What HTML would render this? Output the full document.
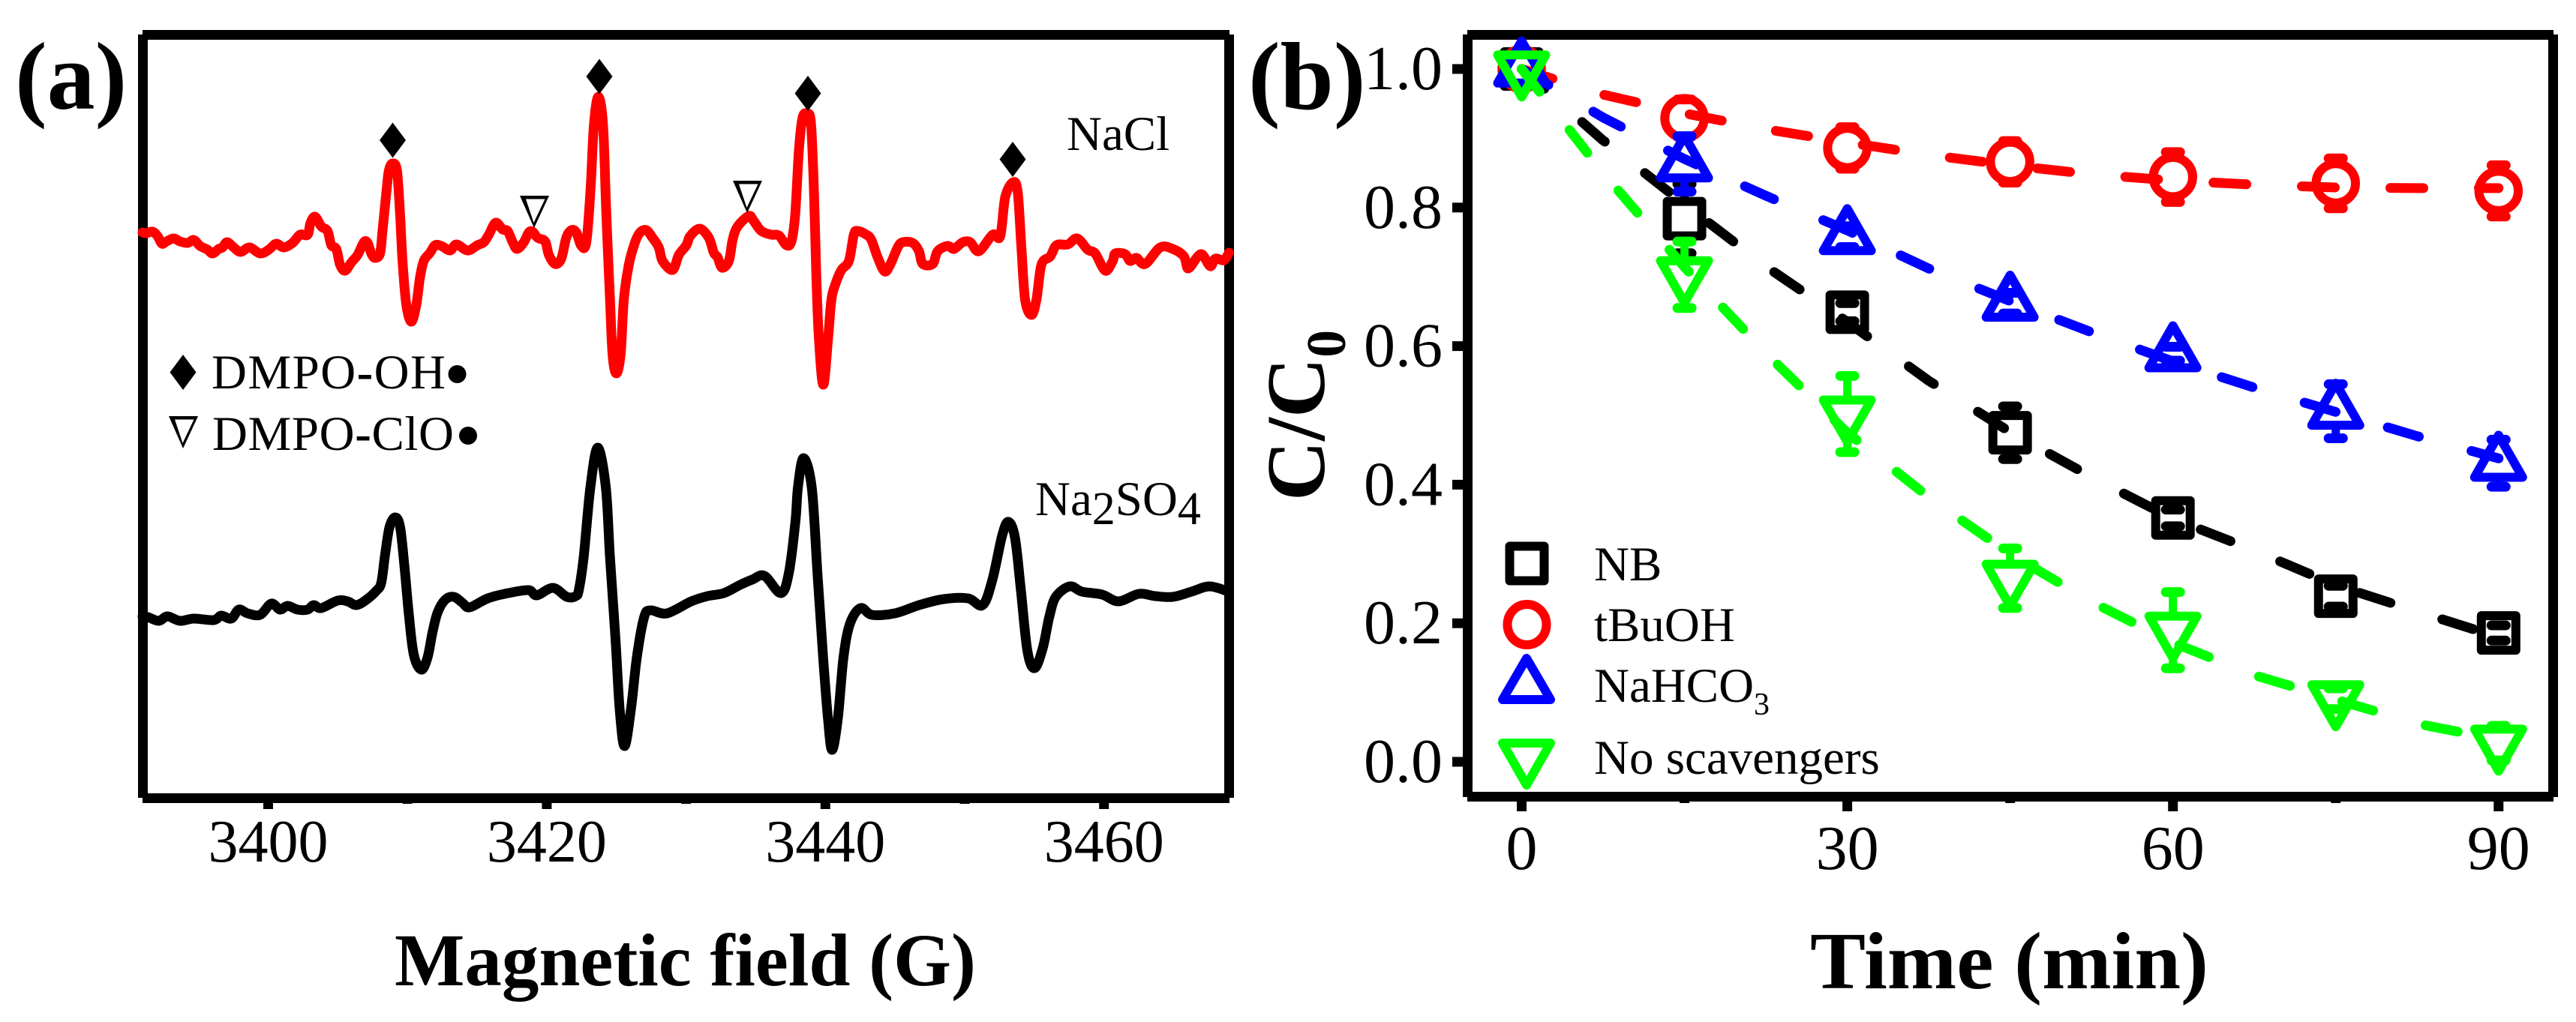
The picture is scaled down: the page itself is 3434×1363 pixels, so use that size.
<!DOCTYPE html>
<html lang="en">
<head>
<meta charset="utf-8">
<title>EPR spectra and scavenger kinetics</title>
<style>
html,body{margin:0;padding:0;background:#fff;}
svg{display:block;}
text{font-family:"Liberation Serif",serif;fill:#000;}
.t65{font-size:65px;}
.bold{font-weight:bold;}
</style>
</head>
<body>
<svg id="fig" xmlns="http://www.w3.org/2000/svg" width="3434" height="1363" viewBox="0 0 3434 1363">
  <rect x="0" y="0" width="3434" height="1363" fill="#fff"/>

  <g id="panel-a">
    <text class="bold" x="20" y="145" font-size="128">(a)</text>
    <g stroke="#000" stroke-width="13" fill="none">
      <line x1="190" y1="46.5" x2="1639" y2="46.5"/>
      <line x1="190" y1="1064.5" x2="1639" y2="1064.5"/>
      <line x1="190.5" y1="46" x2="190.5" y2="1064"/>
      <line x1="1638.5" y1="46" x2="1638.5" y2="1064"/>
    </g>
    <g id="a-ticks"></g>
    <g id="a-traces"></g>

    <g fill="#000">
      <polygon points="523.5,163.5 541,187 523.5,210.5 506,187"/>
      <polygon points="799,78.5 816.5,102 799,125.5 781.5,102"/>
      <polygon points="1077,101 1094.5,124.5 1077,148 1059.5,124.5"/>
      <polygon points="1350,189 1367.5,212.5 1350,236 1332.5,212.5"/>
    </g>
    <g>
      <polygon points="977,241 1016,241 996,284" fill="#000"/>
      <polygon points="985,245.5 1010.5,245.5 995.5,277" fill="#fff"/>
    </g>
    <g transform="translate(-284,20)">
      <polygon points="977,241 1016,241 996,284" fill="#000"/>
      <polygon points="985,245.5 1010.5,245.5 995.5,277" fill="#fff"/>
    </g>

    <text class="t65" x="1422" y="200">NaCl</text>
    <text class="t65" x="1380" y="687">Na<tspan dy="12" font-size="62">2</tspan><tspan dy="-12">SO</tspan><tspan dy="12" font-size="62">4</tspan></text>

    <g>
      <polygon points="244,473 261.5,496.5 244,520 226.5,496.5" fill="#000"/>
      <text class="t65" x="282" y="518" textLength="312">DMPO<tspan font-weight="bold">-</tspan>OH</text>
      <circle cx="609.5" cy="499" r="12" fill="#000"/>
    </g>
    <g>
      <g transform="translate(-752,314)">
        <polygon points="977,241 1016,241 996,284" fill="#000"/>
        <polygon points="985,245.5 1010.5,245.5 995.5,277" fill="#fff"/>
      </g>
      <text class="t65" x="283" y="600" textLength="322">DMPO<tspan font-weight="bold">-</tspan>ClO</text>
      <circle cx="624" cy="581" r="12" fill="#000"/>
    </g>

    <text class="bold" x="526" y="1314" font-size="100" textLength="775" lengthAdjust="spacingAndGlyphs">Magnetic field (G)</text>
  </g>

  <g id="panel-b">
    <text class="bold" x="1664" y="145" font-size="128">(b)</text>
    <g stroke="#000" stroke-width="13" fill="none">
      <line x1="1956" y1="46.5" x2="3404" y2="46.5"/>
      <line x1="1956" y1="1062.5" x2="3404" y2="1062.5"/>
      <line x1="1956.5" y1="46" x2="1956.5" y2="1063"/>
      <line x1="3403.5" y1="46" x2="3403.5" y2="1063"/>
    </g>
    <g id="b-ticks"></g>
    <g id="b-series"></g>

    <text class="bold" transform="translate(1765,668) rotate(-90)" font-size="111">C/C<tspan dy="28" font-size="74">0</tspan></text>
    <text class="bold" x="2413" y="1318" font-size="108" textLength="531" lengthAdjust="spacingAndGlyphs">Time (min)</text>

    <g fill="none" stroke-width="12" stroke-linejoin="round">
      <g>
        <rect x="2012.5" y="728.5" width="46" height="46" stroke="#000"/>
        <text class="t65" x="2125" y="774" stroke="none">NB</text>
      </g>
      <g>
        <ellipse cx="2035.5" cy="833" rx="26" ry="27" stroke="#f00"/>
        <text class="t65" x="2125" y="855" stroke="none">tBuOH</text>
      </g>
      <g>
        <polygon points="2035,878 2067,933 2003,933" stroke="#00f"/>
        <text class="t65" x="2125" y="936" stroke="none">NaHCO<tspan dy="17" font-size="42">3</tspan></text>
      </g>
      <g>
        <polygon points="2035,1047 2067,991 2003,991" stroke="#0f0"/>
        <text class="t65" x="2125" y="1032" stroke="none">No scavengers</text>
      </g>
    </g>
  </g>
</svg>

<script>
// ---------- Panel (a) data: EPR spectra, field in gauss, signal in arbitrary units ----------
const aTickLabels = [3400, 3420, 3440, 3460];
const aMinorTicks = [3410, 3430, 3450];

const naclField = [3390.98,3391.25,3391.70,3392.06,3392.38,3392.69,3393.22,3393.67,3394.21,3394.66,3395.11,3395.65,3396.01,3396.45,3396.72,3397.05,3397.53,3398.02,3398.66,3399.42,3400.04,3400.58,3401.12,3401.75,3402.29,3402.83,3403.04,3403.37,3403.81,3404.26,3404.53,3404.89,3405.16,3405.52,3405.97,3406.42,3406.87,3407.14,3407.40,3407.67,3408.03,3408.21,3408.48,3408.66,3408.93,3409.25,3409.47,3409.65,3409.92,3410.28,3410.63,3410.90,3411.17,3411.62,3411.98,3412.43,3413.06,3413.51,3414.32,3415.03,3415.48,3415.84,3416.33,3416.83,3417.19,3417.55,3417.87,3418.35,3418.71,3418.98,3419.34,3419.88,3420.15,3420.59,3421.04,3421.40,3421.76,3422.12,3422.48,3422.84,3423.14,3423.38,3423.70,3424.04,3424.27,3424.54,3424.72,3424.99,3425.30,3425.53,3425.89,3426.34,3426.70,3427.15,3427.59,3428.04,3428.31,3429.03,3429.48,3430.02,3430.29,3430.97,3431.63,3431.99,3432.26,3432.58,3433.07,3433.34,3433.70,3434.51,3434.86,3435.40,3436.12,3436.66,3437.20,3437.56,3437.83,3438.10,3438.36,3438.67,3438.96,3439.17,3439.35,3439.53,3439.85,3440.20,3440.43,3440.70,3441.15,3441.69,3442.04,3442.31,3442.94,3443.30,3443.75,3444.25,3444.65,3445.19,3445.55,3446.27,3446.72,3446.99,3447.70,3448.06,3448.78,3449.23,3449.86,3450.40,3451.02,3452.01,3452.55,3452.91,3453.48,3453.81,3454.08,3454.34,3454.79,3455.15,3455.51,3456.14,3456.59,3457.40,3458.08,3458.83,3459.37,3460.09,3460.63,3460.81,3461.52,3461.88,3462.33,3462.96,3464.04,3464.94,3465.74,3466.05,3466.73,3467.09,3467.63,3467.99,3468.61,3468.97];
const naclSignal = [748,747,749,743,733,736,740,736,734,738,730,725,720,726,728,735,728,722,728,720,725,733,728,734,745,745,761,769,756,750,731,726,705,697,708,718,735,734,720,714,720,751,801,830,840,830,771,708,651,629,651,688,710,721,731,730,724,732,724,731,735,745,761,752,750,735,726,735,748,749,741,736,718,706,713,741,751,748,730,735,805,891,929,891,775,658,585,560,585,658,705,735,748,751,741,728,710,698,718,731,743,753,741,721,715,701,710,738,756,770,763,750,745,744,731,736,771,858,901,906,895,808,691,608,545,608,658,678,698,710,745,750,745,738,715,696,705,728,735,734,723,706,706,723,730,726,735,735,723,745,743,795,815,801,725,658,638,658,705,716,731,732,740,725,720,697,710,720,719,710,714,706,728,726,716,700,716,718,703,713,711,721];

const na2so4Field = [3390.98,3391.37,3392.15,3392.77,3393.67,3394.66,3396.09,3396.63,3397.35,3397.89,3398.52,3399.42,3400.22,3400.85,3401.39,3402.11,3402.83,3403.27,3403.81,3404.98,3405.70,3406.33,3407.04,3407.76,3408.12,3408.39,3408.71,3409.11,3409.47,3409.79,3410.10,3410.45,3410.99,3411.44,3411.80,3412.16,3412.70,3413.33,3413.95,3414.46,3415.77,3417.23,3418.69,3419.28,3420.44,3421.44,3422.08,3422.31,3422.66,3423.13,3423.66,3424.24,3424.53,3424.94,3425.23,3425.58,3426.05,3426.46,3426.99,3427.45,3428.62,3430.37,3431.54,3432.71,3433.88,3434.75,3435.63,3436.80,3437.38,3437.85,3438.03,3438.43,3439.02,3439.43,3439.84,3440.19,3440.48,3440.89,3441.30,3441.76,3442.52,3443.34,3444.98,3446.73,3448.48,3450.23,3451.29,3451.99,3452.69,3453.15,3453.62,3454.03,3454.50,3455.02,3455.61,3456.07,3456.54,3457.54,3458.41,3459.87,3461.04,3462.50,3463.67,3464.95,3466.29,3467.58,3468.93];
const na2so4Signal = [236,235,230,236,230,233,231,237,233,245,240,238,253,245,250,245,245,251,247,257,256,251,258,270,281,318,355,368,355,301,238,185,165,181,215,241,258,262,254,248,260,267,271,264,274,262,263,272,317,408,461,408,317,204,113,63,113,181,235,244,240,256,263,267,278,285,290,267,294,363,408,447,408,294,181,99,58,99,181,226,247,238,240,251,259,260,251,285,344,362,340,272,190,167,194,235,262,276,269,265,256,266,263,262,269,276,269];

// ---------- Panel (b) data: C/C0 versus time ----------
const times = [0, 15, 30, 45, 60, 75, 90];
const xTickLabelsB = [0, 30, 60, 90];
const xMinorTicksB = [15, 45, 75];
const yTickLabelsB = ['0.0', '0.2', '0.4', '0.6', '0.8', '1.0'];

const nbValues = [1.0, 0.784, 0.649, 0.475, 0.352, 0.239, 0.186];
const nbErrors = [0, 0.05, 0.013, 0.038, 0.012, 0.015, 0.011];
const tbuohValues = [1.0, 0.929, 0.886, 0.866, 0.844, 0.835, 0.824];
const tbuohErrors = [0, 0.027, 0.03, 0.03, 0.036, 0.036, 0.037];
const nahco3Values = [1.0, 0.863, 0.758, 0.662, 0.589, 0.506, 0.431];
const nahco3Errors = [0, 0.04, 0.015, 0.015, 0.01, 0.039, 0.034];
const noneValues = [1.0, 0.703, 0.502, 0.265, 0.19, 0.091, 0.027];
const noneErrors = [0, 0.048, 0.055, 0.043, 0.055, 0.015, 0.025];

// Dashed trend curves
const fitTimes = [0, 7.5, 15, 22.5, 30, 37.5, 45, 52.5, 60, 67.5, 75, 82.5, 90];
const nbFit = [1.0, 0.897, 0.805, 0.715, 0.635, 0.55, 0.476, 0.411, 0.351, 0.305, 0.255, 0.217, 0.18];
const tbuohFit = [1.0, 0.963, 0.936, 0.913, 0.894, 0.876, 0.861, 0.848, 0.839, 0.833, 0.829, 0.828, 0.828];
const nahco3Fit = [1.0, 0.93, 0.87, 0.817, 0.767, 0.712, 0.665, 0.62, 0.578, 0.54, 0.505, 0.47, 0.438];
const noneFit = [1.0, 0.85, 0.714, 0.59, 0.475, 0.382, 0.3, 0.231, 0.172, 0.125, 0.09, 0.055, 0.032];

// ---------- Axis functions ----------
const NS = 'http://www.w3.org/2000/svg';
function xA(g) { return 357.5 + (g - 3400) * 18.57; }
function yA(s) { return 1058 - s; }
function xB(t) { return 2028.5 + t * 14.47; }
function yB(v) { return 1016 - 924 * v; }

function mk(parent, tag, attrs) {
  const el = document.createElementNS(NS, tag);
  for (const k in attrs) el.setAttribute(k, attrs[k]);
  parent.appendChild(el);
  return el;
}

// ---------- Panel (a) ----------
const aTicks = document.getElementById('a-ticks');
aTickLabels.forEach(function (g) {
  const tick = mk(aTicks, 'line', { x1: xA(g), x2: xA(g), y1: 1070, y2: 1079, stroke: '#000', 'stroke-width': 13 });
  
  
  const label = mk(aTicks, 'text', { x: xA(g), y: 1149, 'text-anchor': 'middle', 'font-size': 80 });
  label.textContent = String(g);
  
  
});
aMinorTicks.forEach(function (g) {
  const tick = mk(aTicks, 'line', { x1: xA(g), x2: xA(g), y1: 1070, y2: 1072, stroke: '#000', 'stroke-width': 13 });
  
  
});

// Smooth curve through the sampled spectrum (Catmull-Rom converted to cubic Beziers)
function tracePath(fields, signals) {
  const p = fields.map(function (g, i) { return [xA(g), yA(signals[i])]; });
  let d = 'M' + p[0][0].toFixed(1) + ' ' + p[0][1].toFixed(1);
  for (let i = 0; i < p.length - 1; i++) {
    const a = p[Math.max(i - 1, 0)], b = p[i], c = p[i + 1], e = p[Math.min(i + 2, p.length - 1)];
    const c1x = b[0] + (c[0] - a[0]) / 6, c1y = b[1] + (c[1] - a[1]) / 6;
    const c2x = c[0] - (e[0] - b[0]) / 6, c2y = c[1] - (e[1] - b[1]) / 6;
    d += ' C' + c1x.toFixed(1) + ' ' + c1y.toFixed(1) + ' ' + c2x.toFixed(1) + ' ' + c2y.toFixed(1) + ' ' + c[0].toFixed(1) + ' ' + c[1].toFixed(1);
  }
  return d;
}
const aTraces = document.getElementById('a-traces');
const na2so4Trace = mk(aTraces, 'path', { d: tracePath(na2so4Field, na2so4Signal), fill: 'none', stroke: '#000', 'stroke-width': 13, 'stroke-linejoin': 'round', 'stroke-linecap': 'round' });


const naclTrace = mk(aTraces, 'path', { d: tracePath(naclField, naclSignal), fill: 'none', stroke: '#f00', 'stroke-width': 13, 'stroke-linejoin': 'round', 'stroke-linecap': 'round' });



// ---------- Panel (b) axes ----------
const bTicks = document.getElementById('b-ticks');
xTickLabelsB.forEach(function (t) {
  const tick = mk(bTicks, 'line', { x1: xB(t), x2: xB(t), y1: 1068, y2: 1082, stroke: '#000', 'stroke-width': 13 });
  
  
  const label = mk(bTicks, 'text', { x: xB(t), y: 1159, 'text-anchor': 'middle', 'font-size': 84 });
  label.textContent = String(t);
  
  
});
xMinorTicksB.forEach(function (t) {
  const tick = mk(bTicks, 'line', { x1: xB(t), x2: xB(t), y1: 1068, y2: 1071, stroke: '#000', 'stroke-width': 13 });
  
  
});
yTickLabelsB.forEach(function (s) {
  const v = parseFloat(s);
  const tick = mk(bTicks, 'line', { x1: 1936, x2: 1951, y1: yB(v), y2: yB(v), stroke: '#000', 'stroke-width': 13 });
  
  
  const label = mk(bTicks, 'text', { x: 1923, y: yB(v) + 27, 'text-anchor': 'end', 'font-size': 84 });
  label.textContent = s;
  
  
});

// ---------- Panel (b) series ----------
// The original dash pattern is squeezed vertically, so dash length is measured with a y stretch.
const DASH_ON = 44, DASH_OFF = 74, DASH_Y_STRETCH = 1 / 0.82;
function dashedPath(pts) {
  let d = 'M' + pts[0][0].toFixed(1) + ' ' + pts[0][1].toFixed(1);
  let on = true, phase = 0;
  for (let i = 1; i < pts.length; i++) {
    const a = pts[i - 1], b = pts[i];
    const L = Math.hypot(b[0] - a[0], (b[1] - a[1]) * DASH_Y_STRETCH);
    let pos = 0;
    while (pos < L - 1e-6) {
      const limit = on ? DASH_ON : DASH_OFF;
      const step = Math.min(limit - phase, L - pos);
      pos += step;
      phase += step;
      const f = pos / L;
      const px = (a[0] + (b[0] - a[0]) * f).toFixed(1);
      const py = (a[1] + (b[1] - a[1]) * f).toFixed(1);
      if (on) d += ' L' + px + ' ' + py;
      if (phase >= limit - 1e-6) {
        on = !on;
        phase = 0;
        if (on) d += ' M' + px + ' ' + py;
      }
    }
  }
  return d;
}

const shapeExtent = {
  square: [23, 23],
  circle: [26, 26],
  up: [37, 19],
  down: [19, 37]
};
function drawMarker(parent, shape, x, y, color) {
  const common = { fill: 'none', stroke: color, 'stroke-width': 12, 'stroke-linejoin': 'round' };
  let el;
  if (shape === 'square') {
    el = mk(parent, 'rect', Object.assign({ x: x - 23, y: y - 23, width: 46, height: 46 }, common));
  } else if (shape === 'circle') {
    el = mk(parent, 'circle', Object.assign({ cx: x, cy: y, r: 26.25 }, common));
  } else if (shape === 'up') {
    el = mk(parent, 'polygon', Object.assign({ points: x + ',' + (y - 37.3) + ' ' + (x + 32) + ',' + (y + 18.7) + ' ' + (x - 32) + ',' + (y + 18.7) }, common));
  } else {
    el = mk(parent, 'polygon', Object.assign({ points: x + ',' + (y + 37.3) + ' ' + (x + 32) + ',' + (y - 18.7) + ' ' + (x - 32) + ',' + (y - 18.7) }, common));
  }
  return el;
}

const seriesList = [
  { key: 'nb', color: '#000', shape: 'square', values: nbValues, errors: nbErrors, fit: nbFit },
  { key: 'tbuoh', color: '#f00', shape: 'circle', values: tbuohValues, errors: tbuohErrors, fit: tbuohFit },
  { key: 'nahco3', color: '#00f', shape: 'up', values: nahco3Values, errors: nahco3Errors, fit: nahco3Fit },
  { key: 'no-scavengers', color: '#0f0', shape: 'down', values: noneValues, errors: noneErrors, fit: noneFit }
];
const bSeries = document.getElementById('b-series');
seriesList.forEach(function (s) {
  const g = mk(bSeries, 'g', {});
  
  

  const ext = shapeExtent[s.shape];
  s.values.forEach(function (v, i) {
    const x = xB(times[i]), y = yB(v);
    const e = s.errors[i];
    if (e > 0) {
      const hi = yB(v + e), lo = yB(v - e);
      const bar = mk(g, 'g', { stroke: s.color, fill: 'none', 'stroke-linecap': 'round' });
      
      
      if (hi < y - ext[0]) mk(bar, 'line', { x1: x, x2: x, y1: hi, y2: y - ext[0], 'stroke-width': 11 });
      if (lo > y + ext[1]) mk(bar, 'line', { x1: x, x2: x, y1: lo, y2: y + ext[1], 'stroke-width': 11 });
      mk(bar, 'line', { x1: x - 9.5, x2: x + 9.5, y1: hi, y2: hi, 'stroke-width': 13 });
      mk(bar, 'line', { x1: x - 9.5, x2: x + 9.5, y1: lo, y2: lo, 'stroke-width': 13 });
    }
    const m = drawMarker(g, s.shape, x, y, s.color);
    
    
  });

  const pts = fitTimes.map(function (t, i) { return [xB(t), yB(s.fit[i])]; });
  const line = mk(g, 'path', { d: dashedPath(pts), fill: 'none', stroke: s.color, 'stroke-width': 13, 'stroke-linecap': 'round', 'stroke-linejoin': 'round' });
  
  
});
</script>
</body>
</html>
